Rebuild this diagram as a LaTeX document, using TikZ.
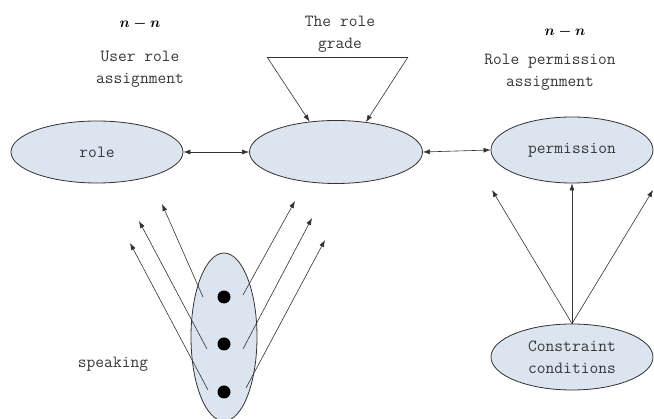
\documentclass[tikz,border=0pt]{standalone}
\usepackage{fontspec}
\usetikzlibrary{shapes.geometric,arrows.meta}
\definecolor{ellfill}{RGB}{220,228,240}
\definecolor{txt}{RGB}{55,55,55}
\definecolor{ln}{RGB}{50,50,50}
\begin{document}
\begin{tikzpicture}[x=1pt,y=-1pt,
  ell/.style={ellipse,draw=ln,fill=ellfill,line width=0.8pt,inner sep=0pt},
  lbl/.style={text=txt,font=\ttfamily\fontsize{17}{22}\selectfont,align=center},
  nn/.style={text=black,font=\fontsize{14}{16}\selectfont\boldmath},
  arr/.style={-{Latex[length=7pt,width=5pt]},draw=ln,line width=0.6pt},
  darr/.style={{Latex[length=7pt,width=5pt]}-{Latex[length=7pt,width=5pt]},draw=ln,line width=0.6pt},
  dot/.style={circle,fill=black,minimum size=13pt,inner sep=0pt}]
\useasboundingbox (0,0) rectangle (654,419);
\clip (0,0) rectangle (654,419);
% main ellipses
\node[ell,minimum width=172pt,minimum height=62pt,lbl] (role) at (97,152) {role};
\node[ell,minimum width=173pt,minimum height=63pt] (mid) at (336,152) {};
\node[ell,minimum width=162pt,minimum height=66pt,lbl] (perm) at (572,150) {permission};
\node[ell,minimum width=162pt,minimum height=66pt,lbl] (con) at (572,357) {Constraint\\conditions};
\node[ell,minimum width=66pt,minimum height=168pt] (spk) at (224,337) {};
% labels
\node[nn] (nnl) at (140,24) {$n-n$};
\node[lbl] (ura) at (140,69) {User role\\assignment};
\node[lbl] (trg) at (340,34) {The role\\grade};
\node[nn] (nnr) at (565,32) {$n-n$};
\node[lbl] (rpa) at (550,72) {Role permission\\assignment};
\node[lbl] (spt) at (113,364) {speaking};
% connectors between ellipses
\draw[darr] (role.east) -- (mid.west);
\draw[darr] (mid.east) -- (perm.west);
% role grade triangle
\coordinate (tl) at (267,57);
\coordinate (tr) at (408,57);
\draw[draw=ln,line width=0.6pt] (tl) -- (tr);
\draw[arr] (tl) -- (mid.131);
\draw[arr] (tr) -- (mid.45);
% constraint arrows
\coordinate (pl) at (492,190);
\coordinate (pr) at (653,190);
\draw[arr] (con.north) -- (pl);
\draw[arr] (con.north) -- (perm.south);
\draw[arr] (con.north) -- (pr);
% speaking dots
\node[dot] (d1) at (224,297) {};
\node[dot] (d2) at (224,344) {};
\node[dot] (d3) at (224,392) {};
% speaking arrows
\coordinate (s1) at (203,297); \coordinate (e1) at (162,204);
\coordinate (s2) at (207,349); \coordinate (e2) at (139,221);
\coordinate (s3) at (208,390); \coordinate (e3) at (130,243);
\coordinate (s4) at (243,295); \coordinate (e4) at (295,201);
\coordinate (s5) at (243,349); \coordinate (e5) at (312,218);
\coordinate (s6) at (246,388); \coordinate (e6) at (325,240);
\draw[arr] (s1) -- (e1);
\draw[arr] (s2) -- (e2);
\draw[arr] (s3) -- (e3);
\draw[arr] (s4) -- (e4);
\draw[arr] (s5) -- (e5);
\draw[arr] (s6) -- (e6);
\end{tikzpicture}
\end{document}
